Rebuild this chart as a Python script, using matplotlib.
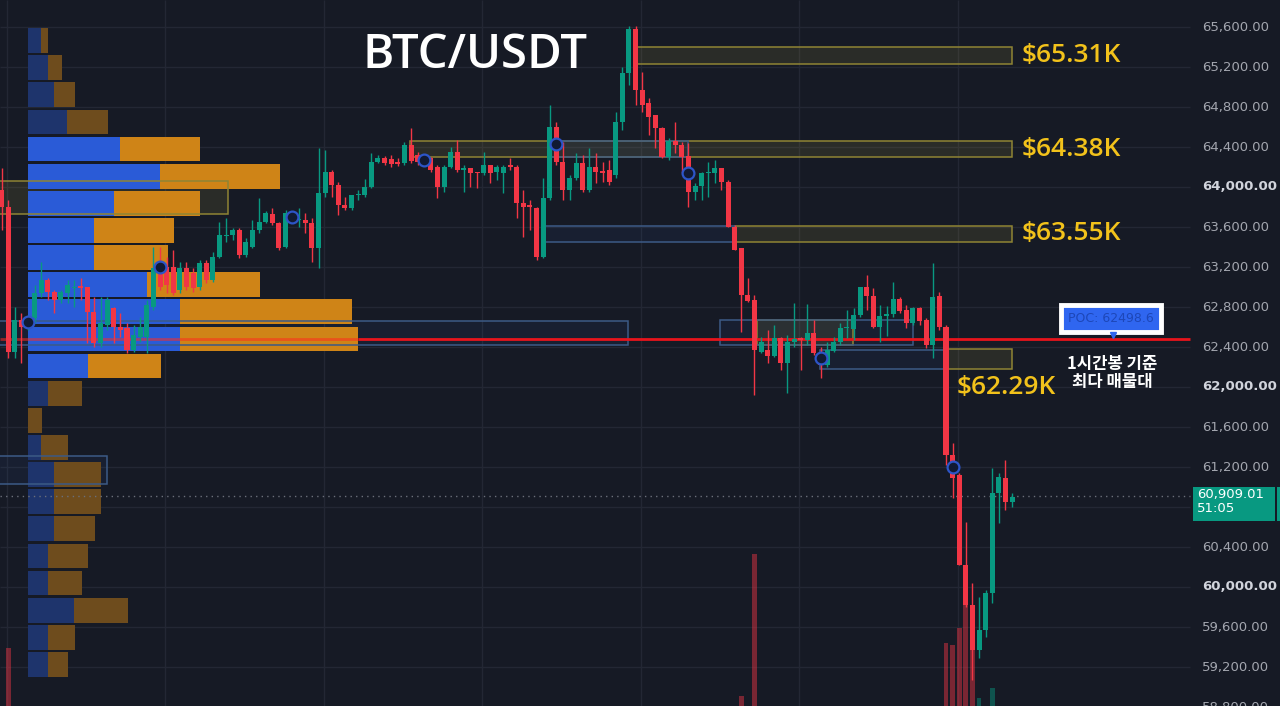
import matplotlib
matplotlib.use('Agg')
import matplotlib.pyplot as plt
from matplotlib import transforms
from matplotlib.patches import Rectangle
import numpy as np

# colours
BG = '#161a25'
UP = '#089981'
DOWN = '#f23645'
GRID = '#232734'

# 1h candles, BTC/USDT
opens = [
    63970, 63800, 62350, 62670, 62620, 62690, 62940, 63070, 62950, 62870,
    62940, 62990, 63010, 63000, 62750, 62440, 62620, 62790, 62600, 62590,
    62370, 62500, 62500, 62800, 63200, 63200, 63200, 62970, 63190, 63140,
    63000, 63240, 63070, 63300, 63510, 63520, 63570, 63320, 63400, 63570,
    63650, 63730, 63640, 63400, 63710, 63670, 63670, 63640, 63390, 63940,
    64150, 64020, 63820, 63790, 63920, 63920, 64000, 64250, 64290, 64280,
    64250, 64240, 64420, 64320, 64260, 64290, 64200, 64000, 64200, 64350,
    64170, 64190, 64150, 64140, 64220, 64150, 64140, 64220, 64200, 63840,
    63820, 63790, 63300, 63890, 64600, 64250, 63970, 64090, 64240, 63970,
    64200, 64160, 64170, 64120, 64650, 65140, 65580, 64970, 64840, 64720,
    64590, 64300, 64460, 64420, 64310, 63950, 64010, 64140, 64140, 64190,
    64050, 63600, 63390, 62920, 62870, 62350, 62370, 62310, 62490, 62240,
    62450, 62490, 62470, 62540, 62290, 62220, 62360, 62450, 62590, 62580,
    62720, 63000, 62910, 62600, 62710, 62730, 62880, 62770, 62640, 62790,
    62670, 62420, 62910, 62600, 61320, 61120, 60220, 59820, 59370, 59570,
    59940, 60940, 61090, 60850]
highs = [
    64190, 63870, 62800, 62740, 62720, 63020, 63250, 63090, 62970, 62970,
    63070, 63070, 63090, 63000, 62900, 62900, 62900, 62800, 62740, 62640,
    62620, 62700, 62870, 63400, 63400, 63300, 63370, 63250, 63250, 63190,
    63270, 63270, 63350, 63650, 63690, 63590, 63590, 63490, 63670, 63890,
    63760, 63790, 63650, 63770, 63750, 63790, 63740, 63690, 64390, 64370,
    64170, 64050, 63900, 63920, 63970, 64080, 64340, 64320, 64310, 64320,
    64290, 64450, 64590, 64350, 64320, 64300, 64220, 64220, 64400, 64470,
    64220, 64190, 64150, 64350, 64220, 64220, 64220, 64290, 64220, 63970,
    63870, 63800, 64090, 64820, 64650, 64450, 64120, 64340, 64320, 64390,
    64340, 64250, 64270, 64750, 65200, 65610, 65610, 65150, 64890, 64720,
    64600, 64490, 64650, 64450, 64440, 64040, 64150, 64250, 64270, 64190,
    64070, 63620, 63390, 63090, 62920, 62500, 62570, 62620, 62500, 62520,
    62840, 62500, 62830, 62670, 62400, 62450, 62500, 62640, 62770, 62790,
    63000, 63120, 62990, 62820, 62810, 63050, 62900, 62820, 62800, 62800,
    62690, 63240, 62950, 62620, 61440, 61140, 60650, 60040, 59900, 59970,
    61190, 61140, 61270, 60940]
lows = [
    63570, 62290, 62290, 62240, 62570, 62640, 62900, 62870, 62740, 62840,
    62840, 62800, 62870, 62440, 62400, 62400, 62570, 62440, 62500, 62340,
    62350, 62450, 62340, 62770, 62970, 62940, 62920, 62940, 62970, 62950,
    62970, 63040, 63050, 63290, 63450, 63470, 63290, 63300, 63390, 63540,
    63640, 63620, 63370, 63390, 63650, 63600, 63540, 63250, 63190, 63900,
    63900, 63720, 63770, 63770, 63870, 63900, 63990, 64240, 64220, 64200,
    64210, 64220, 64240, 64220, 64220, 64150, 63890, 63950, 64190, 64150,
    63950, 64000, 63990, 64120, 64040, 64070, 63940, 64170, 63690, 63500,
    63570, 63270, 63290, 63870, 64220, 63870, 63870, 64070, 63950, 63950,
    64040, 64050, 64020, 64090, 64570, 65020, 64820, 64750, 64520, 64390,
    64290, 64270, 64340, 64140, 63800, 63870, 63870, 63900, 64040, 63970,
    63600, 63370, 62550, 62850, 61920, 62340, 62240, 62300, 62170, 61940,
    62400, 62170, 62420, 62320, 62090, 62200, 62350, 62420, 62490, 62470,
    62700, 62770, 62590, 62450, 62510, 62700, 62740, 62590, 62620, 62620,
    62390, 62290, 62570, 61220, 60890, 60220, 59800, 59070, 59290, 59500,
    59840, 60640, 60770, 60800]
closes = [
    63800, 62350, 62670, 62600, 62670, 62940, 63070, 62950, 62870, 62950,
    63020, 63000, 62990, 62750, 62440, 62640, 62870, 62600, 62570, 62370,
    62520, 62600, 62820, 63190, 63000, 63020, 62940, 63190, 63000, 62990,
    63240, 63070, 63300, 63520, 63520, 63570, 63320, 63450, 63570, 63650,
    63740, 63640, 63390, 63740, 63680, 63680, 63640, 63390, 63940, 64150,
    64020, 63820, 63790, 63920, 63930, 64000, 64250, 64290, 64240, 64230,
    64230, 64420, 64260, 64250, 64300, 64170, 64000, 64200, 64350, 64170,
    64190, 64140, 64140, 64220, 64140, 64200, 64200, 64200, 63840, 63800,
    63800, 63300, 63890, 64600, 64250, 63970, 64090, 64240, 63970, 64200,
    64150, 64140, 64050, 64650, 65140, 65580, 64970, 64820, 64700, 64590,
    64300, 64460, 64420, 64300, 63950, 64010, 64140, 64150, 64190, 64050,
    63600, 63370, 62920, 62860, 62370, 62450, 62310, 62490, 62240, 62450,
    62480, 62470, 62540, 62340, 62220, 62370, 62450, 62590, 62600, 62720,
    63000, 62910, 62600, 62710, 62730, 62880, 62760, 62640, 62790, 62660,
    62420, 62900, 62600, 61320, 61090, 60220, 59820, 59370, 59570, 59940,
    60940, 61100, 60850, 60900]

# volume bars that reach into view
vol_index = [1, 112, 114, 143, 144, 145, 146, 147, 148, 150]
vol_values = [2080, 1600, 3020, 2130, 2110, 2280, 2560, 2160, 1580, 1680]

# volume profile (24 rows, top -> bottom), buy / sell
prof_top, prof_bottom = 65600, 59090
prof_buy = [130, 200, 260, 390, 920, 1320, 860, 660, 660, 1190, 1520, 1520,
            600, 200, 0, 130, 260, 260, 260, 200, 200, 460, 200, 200]
prof_sell = [70, 140, 210, 410, 800, 1200, 860, 800, 740, 1130, 1720, 1780,
             730, 340, 140, 270, 470, 470, 410, 400, 340, 540, 270, 200]
va_rows = (4, 12)
poc = 62498.6

# zones: (start bar, end bar, top, bottom)
yellow_zones = [(95.8, 153, 65400, 65230), (61.8, 153, 64460, 64300),
                (111, 153, 63610, 63450), (143, 153, 62380, 62180),
                (-1, 34.3, 64060, 63730), (114.4, 128.9, 62670, 62420)]
blue_zones = [(82.7, 103.9, 64460, 64300), (82.3, 111, 63610, 63450),
              (123.9, 143, 62370, 62180), (-1, 94.8, 62660, 62420),
              (108.8, 138, 62670, 62420), (-1, 16, 61310, 61030)]
zone_labels = ['$65.31K', '$64.38K', '$63.55K', '$62.29K']

marker_idx = [4, 24, 44, 64, 84, 104, 124, 144]
marker_price = [62650, 63200, 63700, 64270, 64430, 64140, 62290, 61200]

price_ticks = np.arange(58800, 65601, 400)
day_breaks = np.arange(0.8, 154, 24)
last_price = 60909.01
countdown = '51:05'

# ---------------------------------------------------------------
fig = plt.figure(figsize=(12.8, 7.06), dpi=100, facecolor=BG)
ax = fig.add_axes([0, 0, 1, 1])
ax.set_facecolor(BG)
ax.axis('off')
x_left, x_right = -0.23, 193.57
ax.set_xlim(x_left, x_right)
ax.set_ylim(58810, 65870)
chart_right = 179.9           # bar index where the price scale begins

# grid
ax.hlines(price_ticks, x_left, chart_right, color=GRID, lw=1, zorder=0)
ax.vlines(day_breaks, 58810, 65870, color=GRID, lw=1, zorder=0)

# zones (fill under, outline over the profile)
for x0, x1, top, bot in yellow_zones:
    ax.add_patch(Rectangle((x0, bot), x1 - x0, top - bot, fc='#b8a940', alpha=0.13, lw=0, zorder=1))
    ax.add_patch(Rectangle((x0, bot), x1 - x0, top - bot, fc='none', ec='#8f8434', lw=1.1, zorder=2.5))
for x0, x1, top, bot in blue_zones:
    ax.add_patch(Rectangle((x0, bot), x1 - x0, top - bot, fc='#3d6fd0', alpha=0.07, lw=0, zorder=1))
    ax.add_patch(Rectangle((x0, bot), x1 - x0, top - bot, fc='none', ec='#3c5a86', lw=1.1, zorder=2.5))

# volume profile on the left
n_rows = len(prof_buy)
row_h = (prof_top - prof_bottom) / n_rows
centers = prof_top - row_h * (np.arange(n_rows) + 0.5)
prof_trans = transforms.Affine2D().scale(1 / 12800, 1).translate(28 / 1280, 0) + ax.get_yaxis_transform()
for k in range(n_rows):
    inside = va_rows[0] <= k <= va_rows[1]
    cb = '#2a5bd7' if inside else '#1e346c'
    cs = '#cf8417' if inside else '#6e4c1d'
    ax.barh(centers[k], prof_buy[k], height=row_h * 0.91, left=0, color=cb,
            transform=prof_trans, zorder=2)
    ax.barh(centers[k], prof_sell[k], height=row_h * 0.91, left=prof_buy[k], color=cs,
            transform=prof_trans, zorder=2)

# volume
vol_trans = transforms.Affine2D().scale(1, 1 / 7060).translate(0, -1500 / 7060) + ax.get_xaxis_transform()
vcol = [UP if closes[i] >= opens[i] else DOWN for i in vol_index]
ax.bar(vol_index, vol_values, width=0.75, color=vcol, alpha=0.45, transform=vol_trans, zorder=1.5)

# POC line
prof_end = (358 - 1.5) / 6.605
ax.hlines(poc - 20, x_left, prof_end, color='#ff2a1f', lw=2, alpha=0.55, zorder=3)
ax.hlines(poc - 20, prof_end, chart_right, color='#e8141c', lw=2, zorder=3)

# candles
idx = np.arange(len(opens))
o = np.array(opens); c = np.array(closes)
colors = np.where(c >= o, UP, DOWN)
ax.vlines(idx, lows, highs, colors=colors, lw=1, zorder=4)
body_lo = np.minimum(o, c)
body_h = np.maximum(np.abs(c - o), 12)
ax.bar(idx, body_h, bottom=body_lo, width=0.76, color=colors, lw=0, zorder=4)

# markers
ax.plot(marker_idx, marker_price, 'o', ms=8.5, mfc='#111a33', mec='#2d55c8', mew=1.6, zorder=5)

# last price dotted line
ax.hlines(last_price, x_left, chart_right, colors='#6b6f7a', linestyles=(0, (1, 3)), lw=1, zorder=3)

# zone labels
for (x0, x1, top, bot), lab in zip(yellow_zones[:3], zone_labels[:3]):
    ax.annotate(lab, (x1, (top + bot) / 2), xytext=(7, 0), textcoords='offset points',
                color='#f2c21b', fontsize=19, family='Open Sans', weight='semibold',
                ha='left', va='center', zorder=6)
z = yellow_zones[3]
ax.annotate(zone_labels[3], (z[0], z[3]), xytext=(8, -13), textcoords='offset points',
            color='#f2c21b', fontsize=19, family='Open Sans', weight='semibold',
            ha='left', va='center', zorder=6)

# title
fig.text(475 / 1280, 1 - 55 / 706, 'BTC/USDT', color='white', fontsize=34,
         family='Open Sans', weight='semibold', ha='center', va='center')

# price scale (the label under the last-price tag is hidden)
ytr = ax.get_yaxis_transform()
for v in price_ticks:
    if abs(v - last_price) < 200:
        continue
    bold = v % 2000 == 0
    ax.text(1202 / 1280, v, f'{v:,.2f}', transform=ytr, ha='left', va='center',
            fontsize=9.5, color='#d1d4dc' if bold else '#a3a6af',
            weight='bold' if bold else 'normal', family='DejaVu Sans', zorder=6)

# last price tag
ax.add_patch(Rectangle((1193 / 1280, last_price - 250), 82 / 1280, 340, transform=ytr,
                       fc=UP, lw=0, zorder=7))
ax.add_patch(Rectangle((1277 / 1280, last_price - 250), 3 / 1280, 340, transform=ytr,
                       fc=UP, lw=0, zorder=7))
ax.text(1197 / 1280, last_price + 80, f'{last_price:,.2f}\n{countdown}', transform=ytr,
        ha='left', va='top', fontsize=9.5, color='white', family='DejaVu Sans',
        linespacing=1.05, zorder=8)

# POC label
ax.text(1111 / 1280, poc + 190, f'POC: {poc}', transform=ytr, ha='center', va='center',
        fontsize=9, color='#1d47b8', family='DejaVu Sans', zorder=8,
        bbox=dict(boxstyle='square,pad=0.55', fc='#2f66f0', ec='white', lw=3.5))
ax.plot([1113 / 1280], [poc + 25], marker='v', ms=5, color='#2f66f0', transform=ytr, zorder=8)
ax.text(1112 / 1280, poc - 360, '1시간봉 기준\n최다 매물대', transform=ytr, ha='center', va='center',
        fontsize=12, color='white', weight='bold', family=['Noto Sans CJK KR', 'DejaVu Sans'],
        linespacing=1.05, zorder=8)

fig.savefig('out.png', dpi=100, facecolor=BG)
